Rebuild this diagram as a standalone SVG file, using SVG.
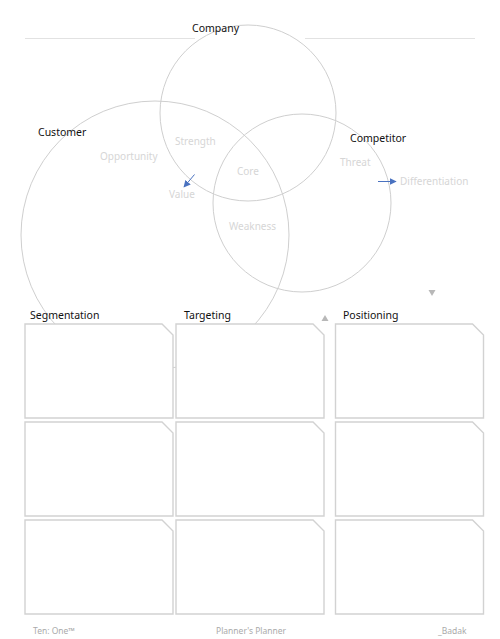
<svg xmlns="http://www.w3.org/2000/svg" width="500" height="639" viewBox="0 0 500 639">
<defs>
<style>
.c{fill:none;stroke:#cfcfcf;stroke-width:1}
.b{fill:#fff;stroke:#d2d2d2;stroke-width:1.4}
.h{font-family:"Noto Sans","Liberation Sans",sans-serif;font-size:10.5px;fill:#111}
.l{font-family:"Noto Sans","Liberation Sans",sans-serif;font-size:10px;fill:#d6d6d6}
.f{font-family:"Noto Sans","Liberation Sans",sans-serif;font-size:8.5px;fill:#aaa}
.a{stroke:#4a72c0;stroke-width:1;fill:none}
</style>
<marker id="ah" viewBox="0 0 10 10" refX="9" refY="5" markerWidth="7" markerHeight="7" orient="auto" markerUnits="userSpaceOnUse">
<path d="M0,0 L10,5 L0,10 z" fill="#4a72c0"/>
</marker>
<path id="box" d="M0,0 H137 L148,11 V94 H0 Z"/>
</defs>
<rect width="500" height="639" fill="#fff"/>
<g id="rules">
<line x1="25" y1="38.5" x2="195" y2="38.5" stroke="#e2e2e2" stroke-width="1"/>
<line x1="305" y1="38.5" x2="475" y2="38.5" stroke="#e2e2e2" stroke-width="1"/>
</g>
<g id="circles">
<circle id="company-circle" class="c" cx="248" cy="113" r="88"/>
<circle id="customer-circle" class="c" cx="155" cy="235" r="134"/>
<circle id="competitor-circle" class="c" cx="302" cy="203" r="89"/>
</g>
<g id="labels">
<text class="h" x="192" y="32">Company</text>
<text class="h" x="38" y="136">Customer</text>
<text class="h" x="350" y="142">Competitor</text>
<text class="l" x="175" y="145">Strength</text>
<text class="l" x="100" y="160">Opportunity</text>
<text class="l" x="237" y="175">Core</text>
<text class="l" x="169" y="198">Value</text>
<text class="l" x="340" y="166">Threat</text>
<text class="l" x="400" y="185">Differentiation</text>
<text class="l" x="229" y="230">Weakness</text>
</g>
<g id="connectors">
<line class="a" x1="194.5" y1="174.5" x2="184" y2="187" marker-end="url(#ah)"/>
<line class="a" x1="378" y1="181.5" x2="396" y2="181.5" marker-end="url(#ah)"/>
</g>
<g id="triangles" fill="#b8b8b8">
<path d="M428.5,290 H435.5 L432,296 Z"/>
<path d="M321.5,321 H328.5 L325,315 Z"/>
</g>
<g id="boxes">
<g id="segmentation">
<text class="h" x="30" y="319">Segmentation</text>
<use href="#box" class="b" x="25" y="324"/>
<use href="#box" class="b" x="25" y="422"/>
<use href="#box" class="b" x="25" y="520"/>
</g>
<g id="targeting">
<text class="h" x="184" y="319">Targeting</text>
<use href="#box" class="b" x="176" y="324"/>
<use href="#box" class="b" x="176" y="422"/>
<use href="#box" class="b" x="176" y="520"/>
</g>
<g id="positioning">
<text class="h" x="343" y="319">Positioning</text>
<use href="#box" class="b" x="335.5" y="324"/>
<use href="#box" class="b" x="335.5" y="422"/>
<use href="#box" class="b" x="335.5" y="520"/>
</g>
</g>
<g id="footer">
<text class="f" x="33" y="634">Ten: One™</text>
<text class="f" x="216" y="634">Planner's Planner</text>
<text class="f" x="438" y="634">_Badak</text>
</g>
</svg>
